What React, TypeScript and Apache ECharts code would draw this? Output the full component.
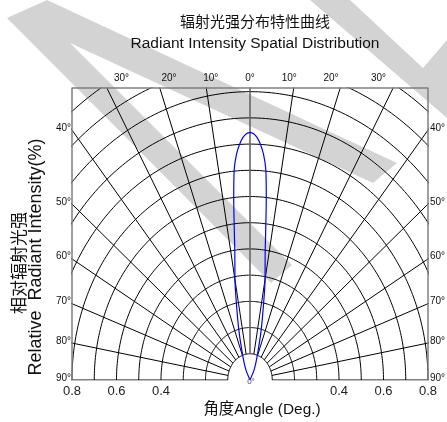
import React, { useEffect, useRef } from "react";
import * as echarts from "echarts";

const TITLE_CN = "辐射光强分布特性曲线";
const TITLE_EN = "Radiant Intensity Spatial Distribution";
const X_TITLE = "角度Angle (Deg.)";
const Y_TITLE_CN = "相对辐射光强";
const Y_TITLE_EN = "Relative  Radiant Intensity(%)";

// beam pattern: off-axis angle (deg) -> relative intensity
const beamAngles = [0, 1, 2, 3, 4, 5, 6, 7, 8, 10, 12, 15, 20, 25, 30];
const beamIntensity = [0.944, 0.94, 0.925, 0.9, 0.865, 0.81, 0.7, 0.58, 0.49, 0.39, 0.29, 0.19, 0.09, 0.045, 0];

// polar grid
const ringRadii = [0.1, 0.2, 0.3, 0.4, 0.5, 0.6, 0.7, 0.8, 0.9, 1.0, 1.1, 1.2, 1.3];
const spokeAngles = [-90, -80, -70, -60, -50, -40, -30, -20, -10, 0, 10, 20, 30, 40, 50, 60, 70, 80, 90];
const topAngleLabels = [30, 20, 10];
const sideAngleLabels = [40, 50, 60, 70, 80, 90];
const xTickLabels = [0.4, 0.6, 0.8];

const X_MAX = 0.8;
const Y_MAX = 1.114;

const FONT_EN = '"Liberation Sans", Arial, "Noto Sans CJK SC", sans-serif';
const FONT_CN = '"Noto Sans CJK SC", sans-serif';

const rad = (d: number) => (d * Math.PI) / 180;
const polar = (deg: number, r: number) => [r * Math.sin(rad(deg)), r * Math.cos(rad(deg))];

export default function App() {
  const ref = useRef<HTMLDivElement>(null);

  useEffect(() => {
    const chart = echarts.init(ref.current!, null, { renderer: "svg" });

    const series: any[] = [];
    ringRadii.forEach((r) => {
      const pts: number[][] = [];
      for (let a = -90; a <= 90; a += 1) pts.push(polar(a, r));
      series.push({
        type: "line",
        data: pts,
        showSymbol: false,
        silent: true,
        clip: true,
        lineStyle: { color: "#000", width: 1 },
      });
    });
    spokeAngles.forEach((a) => {
      series.push({
        type: "line",
        data: [polar(a, 0.1), polar(a, 2)],
        showSymbol: false,
        silent: true,
        clip: true,
        lineStyle: a === 0 ? { color: "#666", width: 1.6 } : { color: "#000", width: 1 },
      });
    });
    // frame (left, top, right)
    series.push({
      type: "line",
      data: [
        [-X_MAX, 0],
        [-X_MAX, Y_MAX],
        [X_MAX, Y_MAX],
        [X_MAX, 0],
      ],
      showSymbol: false,
      silent: true,
      clip: false,
      lineStyle: { color: "#808080", width: 1.5 },
    });
    // beam curve
    const beam: number[][] = [];
    for (let i = beamAngles.length - 1; i > 0; i--) beam.push(polar(-beamAngles[i], beamIntensity[i]));
    for (let i = 0; i < beamAngles.length; i++) beam.push(polar(beamAngles[i], beamIntensity[i]));
    series.push({
      type: "line",
      data: beam,
      smooth: 0.3,
      showSymbol: false,
      clip: true,
      z: 5,
      lineStyle: { color: "#0000ff", width: 1.2 },
    });

    chart.setOption({
      animation: false,
      grid: { left: 72, top: 88, width: 356, height: 292 },
      xAxis: {
        type: "value",
        min: -X_MAX,
        max: X_MAX,
        interval: 0.2,
        axisLine: { show: false },
        axisTick: { show: false },
        splitLine: { show: false },
        axisLabel: {
          margin: 4,
          fontSize: 13,
          color: "#222",
          fontFamily: FONT_EN,
          formatter: (v: number) => {
            const a = Math.round(Math.abs(v) * 10) / 10;
            return xTickLabels.includes(a) ? a.toFixed(1) : "";
          },
        },
      },
      yAxis: { type: "value", min: 0, max: Y_MAX, show: false },
      series,
    });

    const px = (x: number, y: number) => chart.convertToPixel({ gridIndex: 0 }, [x, y]) as number[];
    const txt = (text: string, x: number, y: number, fontSize: number, extra: any = {}) => ({
      type: "text",
      x,
      y,
      z: 100,
      silent: true,
      rotation: extra.rotation || 0,
      style: {
        text,
        fontSize,
        fontFamily: extra.fontFamily || FONT_EN,
        fill: extra.fill || "#111",
        align: extra.align || "center",
        verticalAlign: extra.verticalAlign || "middle",
      },
    });

    const graphic: any[] = [];
    // watermark
    const wmFill = "#d3d3d3";
    graphic.push({
      type: "polygon",
      z: -1,
      silent: true,
      shape: { points: [[7, 18], [47, 0], [397, 163], [373, 183], [70, 43], [292, 265], [271, 283]] },
      style: { fill: wmFill },
    });
    graphic.push({
      type: "polygon",
      z: -1,
      silent: true,
      shape: { points: [[310, 0], [350, 0], [423, 68], [447, 40], [447, 118]] },
      style: { fill: wmFill },
    });

    graphic.push(txt(TITLE_CN, 255, 20, 15, { fontFamily: FONT_CN }));
    graphic.push(txt(TITLE_EN, 255, 42, 15.5));
    graphic.push(txt(X_TITLE, 262, 408, 15.4));
    graphic.push(txt(Y_TITLE_CN, 17, 263, 17, { fontFamily: FONT_CN, rotation: Math.PI / 2 }));
    graphic.push(txt(Y_TITLE_EN, 35, 257, 18, { rotation: Math.PI / 2 }));

    const topY = 77;
    const c = px(0, 1);
    graphic.push(txt("0°", c[0], topY, 10));
    topAngleLabels.forEach((a) => {
      const dx = Math.tan(rad(a));
      const pl = px(-dx, 1);
      const pr = px(dx, 1);
      graphic.push(txt(a + "°", pl[0], topY, 10));
      graphic.push(txt(a + "°", pr[0], topY, 10));
    });
    sideAngleLabels.forEach((a) => {
      const yv = X_MAX / Math.tan(rad(a));
      const pl = px(-X_MAX, yv);
      const pr = px(X_MAX, yv);
      graphic.push(txt(a + "°", pl[0] - 1, pl[1] - 3, 10, { align: "right" }));
      graphic.push(txt(a + "°", pr[0] + 2, pr[1] - 3, 10, { align: "left" }));
    });
    const o = px(0, 0);
    graphic.push(txt("0°", o[0] + 1, o[1] + 1, 8, { fill: "#444" }));

    chart.setOption({ graphic });

    return () => chart.dispose();
  }, []);

  return <div ref={ref} style={{ position: "fixed", left: 0, top: 0, width: 447, height: 422 }} />;
}
